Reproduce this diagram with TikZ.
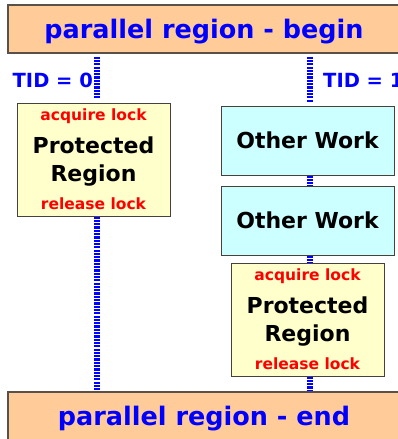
\documentclass[tikz,border=0pt]{standalone}
\usepackage{fontspec}
\setmainfont{DejaVu Sans}

\definecolor{peach}{HTML}{FFCC99}
\definecolor{paleyellow}{HTML}{FFFFCC}
\definecolor{palecyan}{HTML}{CCFFFF}
\definecolor{edge}{HTML}{5A5048}

\begin{document}
\begin{tikzpicture}[x=1pt, y=-1pt,
  bar/.style={draw=edge, line width=1.3pt, fill=peach, minimum width=392pt, minimum height=48pt, text depth=0pt, font=\fontsize{25.5}{30}\selectfont\bfseries, text=blue},
  box/.style={draw=edge!80!black, line width=1pt, inner sep=0pt, align=center, font=\fontsize{22}{28}\selectfont\bfseries},
  work/.style={box, fill=palecyan, minimum width=173pt, minimum height=69pt},
  crit/.style={box, fill=paleyellow, minimum width=153pt, minimum height=113pt, text depth=-3pt},
  lock/.style={inner sep=0pt, text=red, font=\fontsize{15.5}{18}\selectfont\bfseries},
  tid/.style={inner sep=0pt, anchor=base west, text=blue, font=\fontsize{19.5}{22}\selectfont\bfseries},
  thread/.style={blue, line width=6pt, dash pattern=on 2.2pt off 1.1pt},
  gap/.style={shorten >=3pt, shorten <=3pt}
]
\useasboundingbox (0,0) rectangle (398,439);
\clip (0,0) rectangle (398,439);
\node[bar] (begin) at (204,29) {parallel region - begin};
\node[bar] (end) at (204,416) {parallel region - end};
\node[tid] (tid0) at (12.5,87) {TID = 0};
\node[tid] (tid1) at (323,87) {TID = 1};
% thread 0
\node[crit] (crit0) at (93.5,159.5) {Protected\\Region};
\node[lock, anchor=north, yshift=-6pt] (acq0) at (crit0.north) {acquire lock};
\node[lock, anchor=base, yshift=7pt] (rel0) at (crit0.south) {release lock};
% thread 1
\node[work] (work1) at (307.5,140.5) {Other Work};
\node[work] (work2) at (307.5,220.5) {Other Work};
\node[crit] (crit1) at (307.5,319.5) {Protected\\Region};
\node[lock, anchor=north, yshift=-6pt] (acq1) at (crit1.north) {acquire lock};
\node[lock, anchor=base, yshift=7pt] (rel1) at (crit1.south) {release lock};
\coordinate (x0) at (97,0);
\coordinate (x1) at (310,0);
\draw[thread, gap] (begin.south -| x0) -- (crit0.north -| x0);
\draw[thread] (crit0.south -| x0) -- (end.north -| x0);
\draw[thread, gap] (begin.south -| x1) -- (work1.north -| x1);
\draw[thread] (work1.south -| x1) -- (work2.north -| x1);
\draw[thread] (work2.south -| x1) -- (crit1.north -| x1);
\draw[thread] (crit1.south -| x1) -- (end.north -| x1);
\end{tikzpicture}
\end{document}
